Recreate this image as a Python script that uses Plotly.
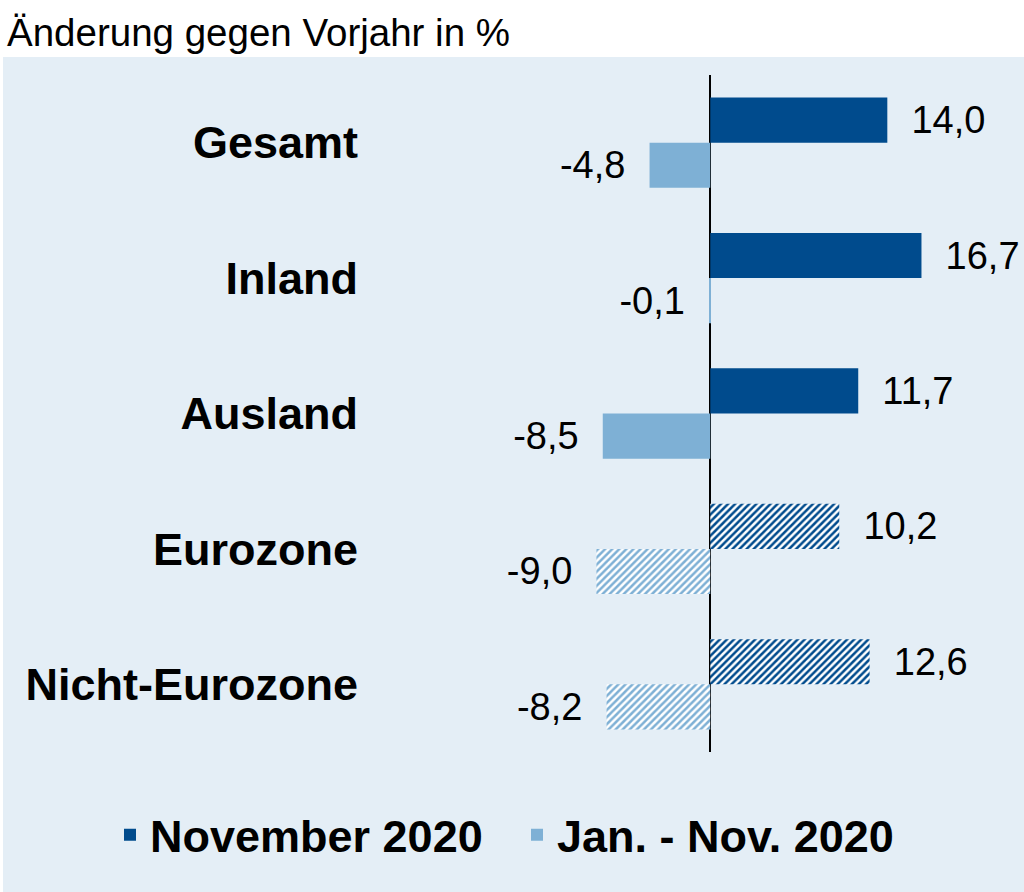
import plotly.graph_objects as go

categories = ["Gesamt", "Inland", "Ausland", "Eurozone", "Nicht-Eurozone"]
nov_2020 = [14.0, 16.7, 11.7, 10.2, 12.6]
jan_nov_2020 = [-4.8, -0.1, -8.5, -9.0, -8.2]
series_names = ["November 2020", "Jan. - Nov. 2020"]
hatched = [False, False, False, True, True]

DARK = "#004B8D"
LIGHT = "#7EB0D5"
BG = "#E4EEF6"
FONT = "Liberation Sans, Arial, sans-serif"


def fmt(v, pos):
    s = f"{v:.1f}".replace(".", ",")
    return ("  " + s) if pos else (s + "  ")


fig = go.Figure()
for name, vals, col, pos in [(series_names[0], nov_2020, DARK, True),
                              (series_names[1], jan_nov_2020, LIGHT, False)]:
    fig.add_trace(go.Bar(
        y=categories, x=vals, name=f"<b>{name}</b>", orientation="h",
        marker=dict(
            color=col, line=dict(width=0),
            pattern=dict(shape=["/" if h else "" for h in hatched],
                         fillmode="replace", bgcolor="white", fgcolor=col,
                         size=5, solidity=0.5),
        ),
        text=[fmt(v, pos) for v in vals],
        textposition="outside", constraintext="none", cliponaxis=False,
        textfont=dict(family=FONT, size=38, color="black"),
    ))

L, R, T, B = 365, 14, 75, 140
PW, PH = 1024 - L - R, 892 - T - B

fig.update_layout(
    width=1024, height=892,
    margin=dict(l=L, r=R, t=T, b=B),
    paper_bgcolor="white", plot_bgcolor="rgba(0,0,0,0)",
    barmode="group", bargap=1/3, bargroupgap=0,
    font=dict(family=FONT, color="black"),
    title=dict(text="Änderung gegen Vorjahr in %", x=7/1024, xanchor="left",
               xref="container", y=1 - 33/892, yanchor="middle", yref="container",
               font=dict(size=38.5, family=FONT, color="black")),
    xaxis=dict(range=[-27.3, 23.7], visible=True, showticklabels=False, showgrid=False,
               zeroline=True, zerolinecolor="black", zerolinewidth=2, ticks=""),
    yaxis=dict(autorange="reversed", showgrid=False, ticks="", zeroline=False,
               tickprefix="<b>", ticksuffix="</b>",
               tickfont=dict(family=FONT, size=45, color="black"), ticklabelstandoff=6),
    legend=dict(orientation="h", xref="paper", x=(110 - L) / PW, xanchor="left",
                yref="paper", y=(892 - B - 835) / PH, yanchor="middle",
                entrywidth=362, entrywidthmode="pixels",
                font=dict(family=FONT, size=45, color="black"),
                itemsizing="constant", bgcolor="rgba(0,0,0,0)"),
    showlegend=True,
    shapes=[dict(type="rect", xref="paper", yref="paper", layer="below",
                 x0=(3 - L) / PW, x1=(1024 - L) / PW,
                 y0=(892 - B - 892) / PH, y1=(892 - B - 57) / PH,
                 fillcolor=BG, line=dict(width=0))],
)

fig.write_html("out.html", config={"displayModeBar": False},
               post_script="document.body.style.margin='0';")
